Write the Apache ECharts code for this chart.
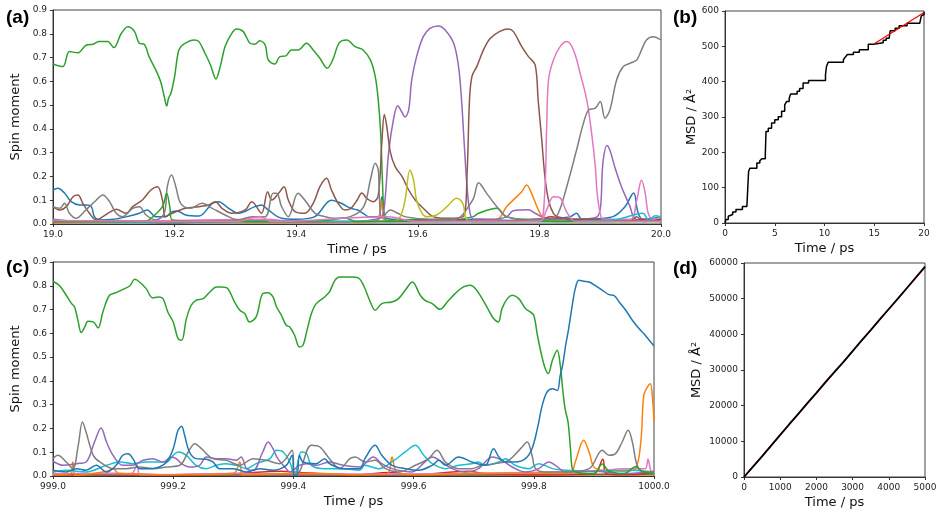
<!DOCTYPE html>
<html>
<head>
<meta charset="utf-8">
<script src="https://cdn.jsdelivr.net/npm/echarts@6/dist/echarts.min.js"></script>
<style>
  html, body { margin: 0; padding: 0; background: #fff; }
  #chart { width: 943px; height: 516px; }
</style>
</head>
<body>
<div id="chart"></div>
<script>
// ---- panel (a): spin moments, 19-20 ps  [time, spin] ----
const aBlue = [[19.0,0.143],[19.008,0.15],[19.019,0.13],[19.030,0.094],[19.044,0.08],[19.054,0.08],[19.063,0.073],[19.068,0.031],[19.076,0.017],[19.10,0.02],[19.12,0.03],[19.142,0.045],[19.155,0.059],[19.169,0.031],[19.185,0.031],[19.196,0.052],[19.204,0.055],[19.218,0.038],[19.240,0.034],[19.262,0.087],[19.272,0.094],[19.289,0.066],[19.305,0.045],[19.332,0.073],[19.343,0.08],[19.354,0.059],[19.376,0.024],[19.40,0.02],[19.43,0.03],[19.458,0.10],[19.474,0.087],[19.490,0.066],[19.501,0.059],[19.51,0.045],[19.52,0.03],[19.535,0.03],[19.541,0.115],[19.546,0.03],[19.56,0.02],[19.62,0.015],[19.70,0.02],[19.75,0.015],[19.80,0.02],[19.85,0.03],[19.861,0.045],[19.87,0.02],[19.92,0.03],[19.94,0.07],[19.955,0.13],[19.962,0.05],[19.97,0.02],[20.0,0.03]];
const aOrange = [[19.0,0.005],[19.2,0.008],[19.4,0.006],[19.53,0.01],[19.541,0.1],[19.546,0.01],[19.6,0.01],[19.73,0.02],[19.746,0.073],[19.771,0.136],[19.779,0.164],[19.787,0.129],[19.801,0.045],[19.812,0.017],[19.9,0.01],[19.96,0.015],[20.0,0.01]];
const aGreen = [[19.0,0.673],[19.016,0.662],[19.027,0.725],[19.041,0.72],[19.055,0.753],[19.066,0.756],[19.076,0.767],[19.090,0.767],[19.100,0.742],[19.112,0.80],[19.123,0.83],[19.134,0.81],[19.142,0.76],[19.150,0.756],[19.158,0.704],[19.169,0.648],[19.177,0.599],[19.183,0.536],[19.187,0.496],[19.190,0.529],[19.194,0.55],[19.200,0.62],[19.207,0.732],[19.215,0.756],[19.232,0.774],[19.240,0.767],[19.250,0.718],[19.259,0.669],[19.268,0.61],[19.275,0.662],[19.283,0.746],[19.294,0.802],[19.302,0.82],[19.313,0.809],[19.324,0.76],[19.332,0.756],[19.340,0.771],[19.349,0.753],[19.354,0.69],[19.365,0.673],[19.373,0.704],[19.383,0.707],[19.392,0.732],[19.403,0.732],[19.417,0.76],[19.428,0.732],[19.439,0.697],[19.451,0.655],[19.460,0.69],[19.471,0.763],[19.483,0.774],[19.497,0.746],[19.510,0.732],[19.522,0.69],[19.530,0.62],[19.535,0.52],[19.539,0.38],[19.542,0.17],[19.545,0.03],[19.55,0.015],[19.6,0.02],[19.65,0.015],[19.69,0.03],[19.70,0.045],[19.730,0.066],[19.746,0.03],[19.80,0.015],[19.85,0.01],[19.9,0.01],[20.0,0.02]];
const aGreen2 = [[19.0,0.01],[19.15,0.012],[19.158,0.017],[19.180,0.073],[19.187,0.129],[19.192,0.073],[19.196,0.017],[19.3,0.01],[19.45,0.015],[19.48,0.025],[19.5,0.01],[20.0,0.01]];
const aRed = [[19.0,0.008],[19.1,0.01],[19.2,0.005],[19.3,0.012],[19.4,0.008],[19.5,0.01],[19.6,0.015],[19.65,0.02],[19.7,0.01],[19.8,0.02],[19.82,0.03],[19.85,0.015],[19.91,0.02],[19.94,0.01],[19.97,0.02],[20.0,0.015]];
const aPurple = [[19.0,0.02],[19.05,0.01],[19.1,0.015],[19.2,0.01],[19.3,0.015],[19.4,0.01],[19.5,0.01],[19.53,0.02],[19.541,0.03],[19.546,0.10],[19.552,0.30],[19.560,0.44],[19.567,0.497],[19.574,0.47],[19.579,0.45],[19.585,0.48],[19.590,0.606],[19.598,0.704],[19.609,0.788],[19.620,0.823],[19.634,0.833],[19.645,0.816],[19.659,0.76],[19.667,0.662],[19.672,0.52],[19.676,0.353],[19.681,0.157],[19.686,0.045],[19.692,0.02],[19.72,0.02],[19.746,0.03],[19.757,0.056],[19.782,0.06],[19.793,0.045],[19.815,0.02],[19.85,0.02],[19.895,0.03],[19.905,0.27],[19.911,0.33],[19.916,0.31],[19.924,0.24],[19.935,0.157],[19.949,0.073],[19.955,0.03],[19.965,0.015],[20.0,0.02]];
const aBrown = [[19.0,0.073],[19.011,0.059],[19.022,0.073],[19.033,0.115],[19.041,0.122],[19.049,0.087],[19.060,0.045],[19.071,0.017],[19.082,0.031],[19.095,0.052],[19.104,0.062],[19.120,0.045],[19.131,0.073],[19.147,0.101],[19.161,0.143],[19.172,0.157],[19.180,0.101],[19.185,0.031],[19.196,0.045],[19.218,0.066],[19.240,0.073],[19.256,0.080],[19.267,0.094],[19.278,0.066],[19.294,0.045],[19.316,0.059],[19.327,0.094],[19.343,0.045],[19.353,0.136],[19.360,0.101],[19.371,0.129],[19.380,0.157],[19.387,0.101],[19.398,0.052],[19.414,0.045],[19.428,0.087],[19.439,0.157],[19.450,0.192],[19.458,0.143],[19.469,0.087],[19.480,0.059],[19.490,0.066],[19.500,0.10],[19.508,0.13],[19.516,0.108],[19.527,0.094],[19.535,0.12],[19.541,0.35],[19.545,0.46],[19.549,0.41],[19.555,0.30],[19.563,0.24],[19.574,0.20],[19.585,0.143],[19.596,0.10],[19.609,0.066],[19.626,0.03],[19.648,0.024],[19.675,0.031],[19.681,0.21],[19.685,0.52],[19.689,0.62],[19.697,0.662],[19.708,0.732],[19.719,0.78],[19.735,0.81],[19.749,0.82],[19.757,0.81],[19.771,0.746],[19.782,0.704],[19.793,0.669],[19.798,0.52],[19.804,0.35],[19.809,0.20],[19.815,0.10],[19.823,0.045],[19.831,0.03],[19.86,0.02],[19.90,0.02],[19.95,0.015],[19.96,0.03],[19.97,0.01],[20.0,0.02]];
const aPink = [[19.0,0.01],[19.1,0.01],[19.2,0.015],[19.35,0.02],[19.40,0.01],[19.55,0.01],[19.70,0.01],[19.80,0.015],[19.808,0.10],[19.812,0.41],[19.815,0.606],[19.823,0.69],[19.834,0.746],[19.845,0.767],[19.856,0.732],[19.867,0.634],[19.878,0.52],[19.886,0.38],[19.892,0.24],[19.895,0.13],[19.900,0.045],[19.905,0.02],[19.95,0.02],[19.960,0.10],[19.968,0.185],[19.974,0.13],[19.979,0.045],[19.987,0.02],[20.0,0.03]];
const aPink2 = [[19.0,0.015],[19.3,0.01],[19.34,0.03],[19.36,0.01],[19.55,0.03],[19.6,0.01],[19.8,0.01],[19.812,0.06],[19.823,0.115],[19.834,0.11],[19.845,0.05],[19.86,0.01],[20.0,0.01]];
const aGray = [[19.0,0.073],[19.011,0.066],[19.019,0.087],[19.027,0.045],[19.038,0.024],[19.054,0.059],[19.071,0.10],[19.082,0.122],[19.093,0.094],[19.104,0.045],[19.114,0.031],[19.131,0.066],[19.142,0.073],[19.153,0.038],[19.169,0.017],[19.183,0.045],[19.188,0.157],[19.195,0.206],[19.202,0.157],[19.210,0.087],[19.226,0.066],[19.245,0.087],[19.262,0.066],[19.283,0.038],[19.305,0.017],[19.327,0.031],[19.349,0.031],[19.362,0.129],[19.368,0.129],[19.376,0.073],[19.387,0.031],[19.403,0.129],[19.414,0.101],[19.431,0.045],[19.447,0.031],[19.463,0.024],[19.489,0.031],[19.511,0.073],[19.522,0.185],[19.530,0.255],[19.535,0.227],[19.537,0.101],[19.541,0.024],[19.555,0.059],[19.567,0.045],[19.58,0.03],[19.62,0.02],[19.66,0.02],[19.69,0.10],[19.700,0.174],[19.713,0.13],[19.730,0.073],[19.746,0.031],[19.78,0.02],[19.82,0.02],[19.831,0.045],[19.845,0.157],[19.861,0.31],[19.872,0.42],[19.881,0.48],[19.892,0.487],[19.900,0.515],[19.908,0.445],[19.916,0.48],[19.927,0.606],[19.938,0.662],[19.949,0.676],[19.960,0.69],[19.968,0.732],[19.976,0.774],[19.987,0.788],[20.0,0.774]];
const aOlive = [[19.0,0.01],[19.3,0.01],[19.56,0.01],[19.571,0.03],[19.579,0.10],[19.587,0.227],[19.593,0.185],[19.598,0.10],[19.607,0.045],[19.615,0.03],[19.631,0.038],[19.648,0.073],[19.664,0.108],[19.674,0.087],[19.681,0.017],[19.70,0.01],[20.0,0.01]];
const aCyan = [[19.0,0.01],[19.2,0.008],[19.4,0.012],[19.6,0.01],[19.8,0.01],[19.9,0.015],[19.93,0.02],[19.97,0.045],[19.98,0.015],[19.99,0.035],[20.0,0.03]];

// ---- panel (c): spin moments, 999-1000 ps ----
const cBlue = [[999.0,0.024],[999.022,0.017],[999.039,0.031],[999.055,0.024],[999.072,0.045],[999.089,0.017],[999.105,0.045],[999.116,0.087],[999.125,0.094],[999.133,0.073],[999.144,0.031],[999.161,0.031],[999.177,0.038],[999.189,0.059],[999.200,0.115],[999.208,0.192],[999.214,0.209],[999.219,0.171],[999.227,0.101],[999.238,0.073],[999.255,0.07],[999.266,0.059],[999.277,0.031],[999.300,0.031],[999.322,0.017],[999.344,0.031],[999.366,0.024],[999.388,0.045],[999.398,0.087],[999.401,0.003],[999.406,0.003],[999.410,0.087],[999.416,0.059],[999.438,0.052],[999.452,0.073],[999.460,0.052],[999.483,0.031],[999.510,0.031],[999.519,0.073],[999.536,0.129],[999.547,0.087],[999.564,0.045],[999.586,0.031],[999.608,0.024],[999.631,0.045],[999.642,0.066],[999.653,0.045],[999.675,0.08],[999.697,0.059],[999.719,0.045],[999.733,0.115],[999.742,0.08],[999.753,0.059],[999.769,0.059],[999.786,0.073],[999.797,0.115],[999.806,0.2],[999.814,0.297],[999.822,0.353],[999.831,0.367],[999.839,0.36],[999.844,0.424],[999.848,0.466],[999.853,0.55],[999.858,0.62],[999.864,0.718],[999.869,0.788],[999.875,0.823],[999.883,0.819],[999.892,0.816],[999.903,0.80],[999.914,0.781],[999.925,0.763],[999.933,0.76],[999.942,0.732],[999.953,0.697],[999.964,0.655],[999.975,0.62],[999.983,0.599],[999.992,0.571],[1000.0,0.547]];
const cOrange = [[999.0,0.005],[999.030,0.01],[999.033,0.059],[999.037,0.003],[999.09,0.02],[999.1,0.03],[999.11,0.01],[999.2,0.005],[999.3,0.01],[999.311,0.059],[999.315,0.005],[999.4,0.01],[999.45,0.01],[999.5,0.005],[999.556,0.01],[999.564,0.08],[999.572,0.017],[999.6,0.005],[999.7,0.01],[999.86,0.01],[999.869,0.059],[999.883,0.15],[999.892,0.101],[999.903,0.031],[999.95,0.02],[999.969,0.031],[999.978,0.143],[999.983,0.34],[999.989,0.374],[999.994,0.388],[999.998,0.31],[1000.0,0.227]];
const cGreen = [[999.0,0.819],[999.011,0.80],[999.022,0.76],[999.031,0.725],[999.036,0.711],[999.042,0.648],[999.047,0.603],[999.053,0.627],[999.058,0.651],[999.067,0.648],[999.075,0.623],[999.083,0.69],[999.094,0.76],[999.105,0.771],[999.119,0.788],[999.128,0.80],[999.136,0.827],[999.144,0.816],[999.155,0.788],[999.166,0.749],[999.175,0.753],[999.183,0.746],[999.191,0.69],[999.200,0.648],[999.208,0.578],[999.214,0.571],[999.222,0.662],[999.230,0.718],[999.238,0.739],[999.250,0.746],[999.261,0.774],[999.272,0.795],[999.280,0.795],[999.291,0.788],[999.302,0.732],[999.311,0.697],[999.319,0.683],[999.327,0.648],[999.338,0.669],[999.349,0.767],[999.358,0.771],[999.366,0.753],[999.372,0.711],[999.380,0.676],[999.388,0.634],[999.394,0.627],[999.402,0.592],[999.410,0.543],[999.416,0.55],[999.422,0.606],[999.430,0.683],[999.438,0.725],[999.452,0.753],[999.460,0.774],[999.469,0.823],[999.477,0.837],[999.497,0.837],[999.508,0.833],[999.517,0.80],[999.528,0.732],[999.536,0.697],[999.547,0.725],[999.564,0.732],[999.575,0.746],[999.586,0.781],[999.598,0.816],[999.611,0.76],[999.619,0.739],[999.631,0.725],[999.644,0.701],[999.656,0.732],[999.669,0.767],[999.683,0.795],[999.694,0.802],[999.703,0.788],[999.714,0.746],[999.725,0.697],[999.733,0.662],[999.741,0.648],[999.747,0.704],[999.756,0.746],[999.764,0.76],[999.775,0.746],[999.786,0.704],[999.794,0.69],[999.800,0.676],[999.806,0.592],[999.813,0.508],[999.819,0.452],[999.824,0.431],[999.831,0.487],[999.839,0.529],[999.844,0.466],[999.848,0.367],[999.852,0.283],[999.857,0.227],[999.861,0.115],[999.864,0.031],[999.869,0.017],[999.9,0.01],[999.914,0.05],[999.925,0.02],[999.95,0.01],[999.97,0.04],[999.98,0.02],[1000.0,0.01]];
const cRed = [[999.0,0.005],[999.1,0.01],[999.2,0.005],[999.3,0.01],[999.38,0.02],[999.41,0.015],[999.5,0.005],[999.56,0.015],[999.6,0.005],[999.69,0.02],[999.72,0.01],[999.8,0.005],[999.9,0.01],[999.915,0.07],[999.92,0.01],[999.95,0.005],[1000.0,0.01]];
const cPurple = [[999.0,0.062],[999.017,0.045],[999.039,0.052],[999.055,0.059],[999.069,0.143],[999.080,0.202],[999.089,0.143],[999.100,0.087],[999.116,0.045],[999.133,0.045],[999.150,0.066],[999.166,0.073],[999.183,0.059],[999.197,0.08],[999.205,0.073],[999.214,0.052],[999.227,0.038],[999.244,0.045],[999.255,0.08],[999.272,0.073],[999.288,0.073],[999.305,0.066],[999.313,0.08],[999.322,0.031],[999.333,0.024],[999.349,0.101],[999.358,0.143],[999.366,0.115],[999.374,0.073],[999.388,0.031],[999.394,0.017],[999.410,0.045],[999.422,0.052],[999.438,0.045],[999.460,0.059],[999.483,0.045],[999.510,0.038],[999.533,0.08],[999.547,0.052],[999.564,0.031],[999.597,0.017],[999.619,0.059],[999.631,0.08],[999.647,0.059],[999.664,0.031],[999.686,0.017],[999.708,0.031],[999.731,0.08],[999.747,0.066],[999.764,0.038],[999.786,0.017],[999.808,0.031],[999.825,0.059],[999.836,0.045],[999.853,0.017],[999.9,0.02],[999.95,0.01],[1000.0,0.02]];
const cBrown = [[999.0,0.005],[999.2,0.003],[999.4,0.005],[999.6,0.004],[999.8,0.005],[999.95,0.008],[1000.0,0.01]];
const cPink = [[999.0,0.01],[999.13,0.01],[999.14,0.045],[999.145,0.005],[999.3,0.01],[999.5,0.008],[999.9,0.02],[999.95,0.03],[999.985,0.03],[999.99,0.07],[999.995,0.02],[1000.0,0.015]];
const cGray = [[999.0,0.073],[999.008,0.087],[999.022,0.059],[999.033,0.031],[999.042,0.129],[999.049,0.227],[999.055,0.185],[999.067,0.087],[999.078,0.059],[999.100,0.031],[999.122,0.031],[999.144,0.038],[999.166,0.031],[999.189,0.038],[999.211,0.045],[999.225,0.101],[999.236,0.136],[999.247,0.115],[999.266,0.073],[999.288,0.066],[999.311,0.045],[999.333,0.073],[999.355,0.066],[999.377,0.052],[999.398,0.108],[999.402,0.003],[999.410,0.017],[999.430,0.129],[999.444,0.122],[999.460,0.073],[999.477,0.031],[999.494,0.073],[999.503,0.08],[999.519,0.059],[999.536,0.066],[999.553,0.031],[999.575,0.017],[999.603,0.045],[999.625,0.073],[999.639,0.108],[999.653,0.059],[999.675,0.031],[999.697,0.031],[999.714,0.045],[999.736,0.052],[999.758,0.066],[999.778,0.115],[999.789,0.143],[999.797,0.087],[999.803,0.031],[999.819,0.017],[999.853,0.017],[999.892,0.031],[999.914,0.108],[999.925,0.087],[999.936,0.094],[999.947,0.143],[999.957,0.192],[999.964,0.143],[999.972,0.045],[999.983,0.017],[1000.0,0.017]];
const cOlive = [[999.0,0.004],[999.3,0.005],[999.6,0.004],[999.9,0.006],[1000.0,0.005]];
const cCyan = [[999.0,0.017],[999.022,0.024],[999.055,0.017],[999.089,0.045],[999.111,0.059],[999.133,0.052],[999.155,0.059],[999.172,0.059],[999.189,0.059],[999.200,0.087],[999.208,0.101],[999.222,0.087],[999.238,0.045],[999.255,0.031],[999.272,0.045],[999.288,0.052],[999.305,0.045],[999.322,0.031],[999.338,0.052],[999.361,0.073],[999.372,0.108],[999.383,0.101],[999.394,0.059],[999.402,0.003],[999.413,0.101],[999.422,0.094],[999.430,0.045],[999.452,0.031],[999.483,0.031],[999.510,0.024],[999.519,0.045],[999.542,0.031],[999.564,0.059],[999.586,0.101],[999.603,0.129],[999.617,0.087],[999.631,0.052],[999.653,0.031],[999.675,0.045],[999.697,0.052],[999.708,0.059],[999.719,0.045],[999.742,0.059],[999.753,0.073],[999.769,0.045],[999.792,0.031],[999.808,0.052],[999.831,0.031],[999.853,0.024],[999.9,0.02],[999.96,0.024],[1000.0,0.017]];

// ---- panel (b): MSD 0-20 ps (step points) and fit ----
const bMsd = [[0,0],[0.1,10],[0.33,19],[0.5,24],[0.77,31],[1.1,38],[1.75,47],[2.2,52],[2.37,146],[2.5,155],[3.2,170],[3.5,176],[3.7,182],[4.05,193],[4.12,259],[4.35,268],[4.68,283],[5.0,292],[5.35,301],[5.69,316],[6.0,334],[6.2,344],[6.45,353],[6.6,365],[7.25,373],[7.5,381],[7.85,396],[8.4,403],[10.1,420],[10.2,443],[10.37,455],[11.9,462],[12.1,470],[12.3,477],[12.9,483],[13.5,490],[14.4,506],[14.9,510],[15.9,517],[16.2,523],[16.5,527],[16.6,544],[17.1,551],[17.5,558],[18.3,565],[19.57,570],[19.73,586],[19.9,590],[20,598]];
const bFit = [[15,507],[20,596]];

// ---- panel (d): MSD 0-5000 ps and fit ----
const dMsd = [[0,0],[250,2900],[500,5800],[750,8800],[1000,11800],[1250,14800],[1500,17700],[1750,20700],[2000,23600],[2250,26600],[2500,29500],[2750,32300],[3000,35300],[3250,38300],[3500,41200],[3750,44200],[4000,47100],[4250,50000],[4500,53000],[4750,56000],[5000,59000]];
const dFit = [[0,0],[5000,58800]];

const FONT = 'DejaVu Sans';
const TAB = { blue:'#1f77b4', orange:'#ff7f0e', green:'#2ca02c', red:'#d62728', purple:'#9467bd',
  brown:'#8c564b', pink:'#e377c2', gray:'#7f7f7f', olive:'#bcbd22', cyan:'#17becf' };

const chart = echarts.init(document.getElementById('chart'), null, { renderer: 'canvas' });

function spin(idx, color, data) {
  return { type: 'line', xAxisIndex: idx, yAxisIndex: idx, data, color,
    showSymbol: false, smooth: 0.35, clip: true, lineStyle: { color, width: 1.5 } };
}
function plain(idx, color, data, extra) {
  return Object.assign({ type: 'line', xAxisIndex: idx, yAxisIndex: idx, data, color,
    showSymbol: false, clip: true, lineStyle: { color, width: 1.5 } }, extra || {});
}
function xAx(idx, min, max, interval, digits) {
  return { type: 'value', gridIndex: idx, min, max, interval,
    name: 'Time / ps', nameLocation: 'middle', nameGap: 19,
    nameTextStyle: { fontFamily: FONT, fontSize: 13, color: '#111' },
    axisLine: { onZero: false, lineStyle: { color: '#333' } },
    axisTick: { length: 3, lineStyle: { color: '#333' } },
    axisLabel: { fontFamily: FONT, fontSize: 9, color: '#222', margin: 6,
      formatter: v => v.toFixed(digits) },
    splitLine: { show: false } };
}
function yAx(idx, min, max, interval, name, gap, digits) {
  return { type: 'value', gridIndex: idx, min, max, interval,
    name, nameLocation: 'middle', nameGap: gap,
    nameTextStyle: { fontFamily: FONT, fontSize: 13, color: '#111' },
    axisLine: { onZero: false, lineStyle: { color: '#333' } },
    axisTick: { length: 3, lineStyle: { color: '#333' } },
    axisLabel: { fontFamily: FONT, fontSize: 9, color: '#222', margin: 6,
      formatter: v => v.toFixed(digits) },
    splitLine: { show: false } };
}

const panelTitle = (text, left, top) => ({ text, left, top,
  textStyle: { fontFamily: 'Liberation Sans', fontSize: 19, fontWeight: 'bold', color: '#000' } });

chart.setOption({
  animation: false,
  backgroundColor: '#fff',
  title: [panelTitle('(a)', 1, 3), panelTitle('(b)', 668, 3), panelTitle('(c)', 1, 253), panelTitle('(d)', 668, 254)],
  grid: [
    { left: 53, top: 10, width: 608, height: 214, show: true, borderColor: '#444', borderWidth: 1 },
    { left: 725, top: 11, width: 199, height: 212, show: true, borderColor: '#444', borderWidth: 1 },
    { left: 53, top: 262, width: 601, height: 214, show: true, borderColor: '#444', borderWidth: 1 },
    { left: 744, top: 263, width: 181, height: 214, show: true, borderColor: '#444', borderWidth: 1 }
  ],
  xAxis: [
    xAx(0, 19, 20, 0.2, 1),
    xAx(1, 0, 20, 5, 0),
    xAx(2, 999, 1000, 0.2, 1),
    xAx(3, 0, 5000, 1000, 0)
  ],
  yAxis: [
    yAx(0, 0, 0.9, 0.1, 'Spin moment', 25, 1),
    yAx(1, 0, 600, 100, 'MSD / Å²', 27, 0),
    yAx(2, 0, 0.9, 0.1, 'Spin moment', 25, 1),
    yAx(3, 0, 60000, 10000, 'MSD / Å²', 41, 0)
  ],
  series: [
    spin(0, TAB.blue, aBlue), spin(0, TAB.orange, aOrange), spin(0, TAB.green, aGreen),
    spin(0, TAB.red, aRed), spin(0, TAB.purple, aPurple), spin(0, TAB.brown, aBrown),
    spin(0, TAB.pink, aPink), spin(0, TAB.gray, aGray), spin(0, TAB.olive, aOlive),
    spin(0, TAB.cyan, aCyan), spin(0, TAB.green, aGreen2), spin(0, TAB.pink, aPink2),

    plain(1, '#000', bMsd, { step: 'end' }),
    plain(1, '#ff0000', bFit, { lineStyle: { color: '#ff0000', width: 1.2 } }),

    spin(2, TAB.olive, cOlive), spin(2, TAB.brown, cBrown), spin(2, TAB.red, cRed),
    spin(2, TAB.pink, cPink), spin(2, TAB.orange, cOrange), spin(2, TAB.cyan, cCyan),
    spin(2, TAB.purple, cPurple), spin(2, TAB.gray, cGray), spin(2, TAB.green, cGreen),
    spin(2, TAB.blue, cBlue),

    plain(3, '#ff0000', dFit, { lineStyle: { color: '#ff0000', width: 1.2 } }),
    plain(3, '#000', dMsd, { lineStyle: { color: '#000', width: 1.8 } })
  ]
});
</script>
</body>
</html>
